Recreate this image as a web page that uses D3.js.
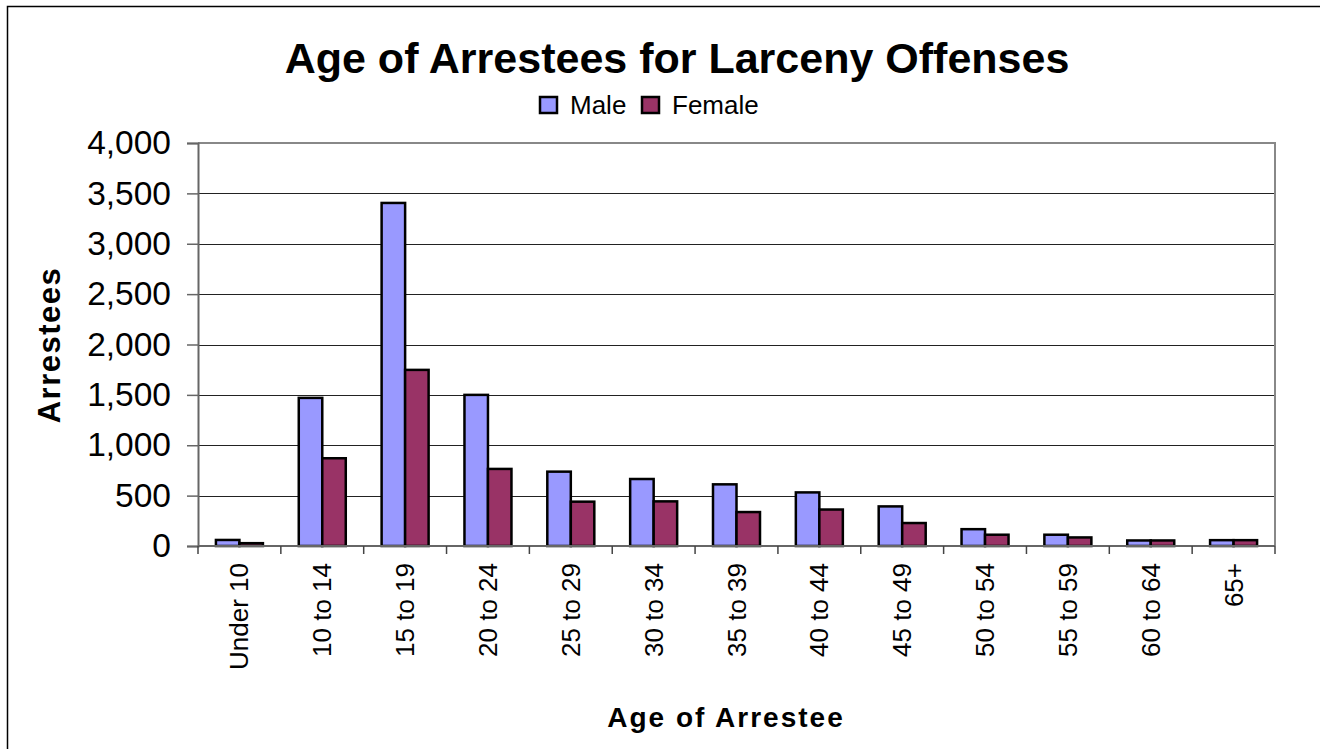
<!DOCTYPE html>
<html>
<head>
<meta charset="utf-8">
<script src="https://cdn.jsdelivr.net/npm/d3@7/dist/d3.min.js"></script>
<style>
  html, body { margin: 0; padding: 0; background: #fff; }
  svg { display: block; font-family: Arial, "Liberation Sans", sans-serif; }
</style>
</head>
<body>
<svg id="chart" width="1320" height="749"></svg>
<script>
const categories = ["Under 10", "10 to 14", "15 to 19", "20 to 24", "25 to 29", "30 to 34", "35 to 39", "40 to 44", "45 to 49", "50 to 54", "55 to 59", "60 to 64", "65+"];
const maleValues = [60, 1470, 3405, 1500, 738, 665, 612, 532, 393, 167, 112, 55, 58];
const femaleValues = [28, 871, 1748, 765, 440, 443, 337, 362, 228, 112, 85, 55, 58];
const seriesNames = ["Male", "Female"];
const seriesColors = ["#9999FF", "#993366"];
const yTicks = [0, 500, 1000, 1500, 2000, 2500, 3000, 3500, 4000];

const svg = d3.select("#chart");

// outer border
svg.append("rect").attr("x", 7.5).attr("y", 6.5).attr("width", 1330).attr("height", 760)
  .attr("fill", "none").attr("stroke", "#000").attr("stroke-width", 1.5);

const plot = { left: 198, right: 1275, top: 143, bottom: 546 };

const x = d3.scaleBand().domain(categories).range([plot.left, plot.right]).padding(0);
const y = d3.scaleLinear().domain([0, 4000]).range([plot.bottom, plot.top]);
const fmt = d3.format(",");

// gridlines
svg.append("g").selectAll("line").data(yTicks.filter(t => t > 0 && t < 4000)).join("line")
  .attr("x1", plot.left).attr("x2", plot.right)
  .attr("y1", d => Math.round(y(d)) + 0.5).attr("y2", d => Math.round(y(d)) + 0.5)
  .attr("stroke", "#222").attr("stroke-width", 1);

// plot border top/right
svg.append("path")
  .attr("d", `M${plot.left},${plot.top} H${plot.right} V${plot.bottom}`)
  .attr("fill", "none").attr("stroke", "#888").attr("stroke-width", 2);

// bars
const barW = 23.5;
const data = categories.map((c, i) => ({ c, vals: [maleValues[i], femaleValues[i]] }));
const groups = svg.append("g").selectAll("g").data(data).join("g");
groups.selectAll("rect").data(d => d.vals.map((v, k) => ({ c: d.c, v, k }))).join("rect")
  .attr("x", d => x(d.c) + x.bandwidth() / 2 + (d.k === 0 ? -barW : 0))
  .attr("y", d => y(d.v))
  .attr("width", barW)
  .attr("height", d => y(0) - y(d.v))
  .attr("fill", d => seriesColors[d.k])
  .attr("stroke", "#000").attr("stroke-width", 2.5);

// y axis
const yAxis = d3.axisLeft(y).tickValues(yTicks).tickFormat(fmt).tickSize(11).tickPadding(16);
const ya = svg.append("g").attr("transform", `translate(${plot.left},0)`).call(yAxis);
ya.select(".domain").attr("stroke", "#666").attr("stroke-width", 2);
ya.selectAll(".tick line").attr("stroke", "#666").attr("stroke-width", 1.5);
ya.selectAll(".tick text").attr("font-size", 33.5).attr("fill", "#000")
  .attr("font-family", "Arial, 'Liberation Sans', sans-serif");

// x axis
const xa = svg.append("g").attr("transform", `translate(0,${plot.bottom})`);
xa.append("line").attr("x1", plot.left).attr("x2", plot.right).attr("y1", 0).attr("y2", 0)
  .attr("stroke", "#666").attr("stroke-width", 2);
const boundaries = categories.map(c => x(c)).concat([plot.right]);
xa.selectAll("line.tk").data(boundaries).join("line").attr("class", "tk")
  .attr("x1", d => d).attr("x2", d => d).attr("y1", 0).attr("y2", 8)
  .attr("stroke", "#444").attr("stroke-width", 1.5);
xa.selectAll("text").data(categories).join("text")
  .attr("transform", d => `translate(${x(d) + x.bandwidth() / 2 + 9},${17}) rotate(-90)`)
  .attr("text-anchor", "end")
  .attr("font-size", 26)
  .text(d => d);

// title
svg.append("text").attr("x", 677).attr("y", 73).attr("text-anchor", "middle")
  .attr("font-size", 43).attr("font-weight", "bold").text("Age of Arrestees for Larceny Offenses");

// legend
const legend = svg.append("g");
const legendItems = [{ name: seriesNames[0], color: seriesColors[0], x: 540, tx: 570 },
                     { name: seriesNames[1], color: seriesColors[1], x: 642, tx: 672 }];
legend.selectAll("rect").data(legendItems).join("rect")
  .attr("x", d => d.x).attr("y", 97).attr("width", 17).attr("height", 16)
  .attr("fill", d => d.color).attr("stroke", "#000").attr("stroke-width", 2.5);
legend.selectAll("text").data(legendItems).join("text")
  .attr("x", d => d.tx).attr("y", 114).attr("font-size", 26).text(d => d.name);

// axis titles
svg.append("text").attr("transform", "translate(60,345) rotate(-90)").attr("text-anchor", "middle")
  .attr("font-size", 31).attr("font-weight", "bold").attr("letter-spacing", 1.5).text("Arrestees");
svg.append("text").attr("x", 726).attr("y", 727).attr("text-anchor", "middle")
  .attr("font-size", 28).attr("font-weight", "bold").attr("letter-spacing", 2).text("Age of Arrestee");
</script>
</body>
</html>
